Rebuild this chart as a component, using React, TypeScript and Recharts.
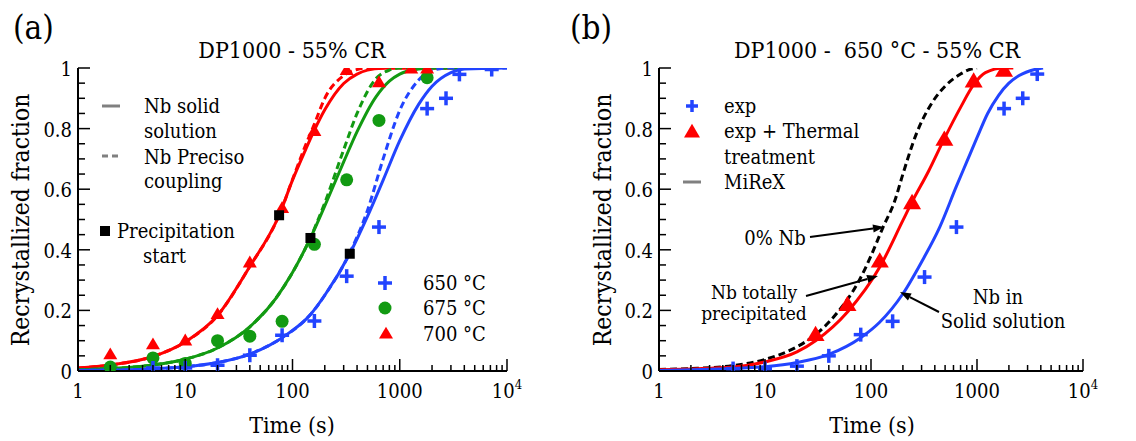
import { ComposedChart, Line, Scatter, XAxis, YAxis } from 'recharts';

const FONT = "'DejaVu Serif Condensed', 'DejaVu Serif', serif";
const BLUE = '#2244ff';
const GREEN = '#129a12';
const RED = '#ff0000';
const GREY = '#808080';

// ---- panel (a) : experimental points ----
const exp650T = [5, 10, 20, 40, 80, 160, 320, 640, 1800, 2700, 3600, 7200];
const exp650Y = [0.01, 0.01, 0.019, 0.052, 0.118, 0.165, 0.313, 0.475, 0.866, 0.9, 0.979, 0.995];
const exp675T = [2, 5, 10, 20, 40, 80, 160, 320, 640, 1800];
const exp675Y = [0.013, 0.043, 0.025, 0.1, 0.115, 0.164, 0.418, 0.631, 0.827, 0.968];
const exp700T = [2, 5, 10, 20, 40, 80, 160, 320, 640, 1280, 1800];
const exp700Y = [0.057, 0.09, 0.103, 0.19, 0.36, 0.54, 0.794, 0.995, 0.955, 1.0, 1.0];
const precipT = [75, 147, 342];
const precipY = [0.514, 0.439, 0.387];

// ---- panel (a) : model curves ----
const red700T = [1, 2, 5, 10, 20, 40, 75, 100, 130, 160, 200, 300, 400, 500, 700, 1000, 4000];
const red700Solid = [0.01, 0.02, 0.048, 0.096, 0.183, 0.345, 0.514, 0.63, 0.724, 0.795, 0.862, 0.949, 0.98, 0.993, 0.999, 1, 1];
const red700Dash = [0.01, 0.02, 0.048, 0.096, 0.183, 0.345, 0.514, 0.632, 0.738, 0.815, 0.9, 0.975, 0.995, 1, 1, 1, 1];
const green675T = [1, 2, 5, 10, 20, 40, 70, 100, 147, 200, 300, 400, 600, 800, 1000, 1500, 2000, 4000];
const green675Solid = [0.004, 0.008, 0.02, 0.039, 0.076, 0.146, 0.24, 0.325, 0.439, 0.545, 0.69, 0.79, 0.905, 0.957, 0.98, 0.997, 1, 1];
const green675Dash = [0.004, 0.008, 0.02, 0.039, 0.076, 0.146, 0.24, 0.325, 0.44, 0.555, 0.73, 0.85, 0.965, 0.993, 1, 1, 1, 1];
const blue650T = [1, 2, 5, 10, 20, 40, 80, 150, 200, 342, 500, 700, 1000, 1500, 2000, 3000, 4000, 10000];
const blue650Solid = [0.002, 0.003, 0.007, 0.014, 0.028, 0.056, 0.11, 0.19, 0.25, 0.387, 0.51, 0.63, 0.76, 0.88, 0.94, 0.985, 0.997, 1];
const blue650Dash = [0.002, 0.003, 0.007, 0.014, 0.028, 0.056, 0.11, 0.19, 0.25, 0.39, 0.53, 0.7, 0.86, 0.96, 0.993, 1, 1, 1];

// ---- panel (b) ----
const expBT = [5, 10, 20, 40, 80, 160, 320, 640, 1800, 2700, 3700];
const expBY = [0.008, 0.008, 0.016, 0.05, 0.12, 0.164, 0.31, 0.475, 0.866, 0.9, 0.98];
const thermalT = [30, 60, 121, 244, 492, 930, 1800];
const thermalY = [0.123, 0.222, 0.365, 0.558, 0.767, 0.959, 0.995];
const precipBT = [1, 5, 10, 20, 30, 60, 121, 200, 244, 350, 492, 700, 930, 1200, 1800, 2200];
const precipBY = [0.004, 0.013, 0.03, 0.063, 0.1, 0.195, 0.343, 0.497, 0.558, 0.66, 0.767, 0.87, 0.945, 0.985, 1, 1];
const noNbT = [1, 2, 5, 10, 20, 30, 50, 75, 100, 130, 167, 200, 266, 384, 500, 700, 850, 1000];
const noNbY = [0.005, 0.008, 0.018, 0.038, 0.08, 0.12, 0.2, 0.29, 0.38, 0.475, 0.56, 0.65, 0.78, 0.89, 0.94, 0.98, 0.995, 1];
const solidBT = [1, 5, 10, 20, 40, 80, 120, 200, 300, 445, 640, 800, 1000, 1260, 1600, 2000, 2500, 3500, 4200];
const solidBY = [0.002, 0.008, 0.014, 0.028, 0.055, 0.11, 0.16, 0.255, 0.36, 0.475, 0.61, 0.69, 0.77, 0.85, 0.91, 0.95, 0.975, 0.995, 1];

const X_TICKS = [1, 10, 100, 1000].flatMap((d) => [1, 2, 3, 4, 5, 6, 7, 8, 9].map((m) => m * d)).concat(10000);
const Y_TICKS = [0, 0.05, 0.1, 0.15, 0.2, 0.25, 0.3, 0.35, 0.4, 0.45, 0.5, 0.55, 0.6, 0.65, 0.7, 0.75, 0.8, 0.85, 0.9, 0.95, 1];

const pts = (t: number[], y: number[]) => t.map((x, i) => ({ x, y: y[i] }));

const isMajorX = (v: number) => Math.abs(Math.log10(v) - Math.round(Math.log10(v))) < 1e-6;
const isMajorY = (v: number) => Math.abs(v * 5 - Math.round(v * 5)) < 1e-6;

const BottomTick = (p: any) => {
  const v = p.payload.value;
  const major = isMajorX(v);
  return (
    <g>
      <line x1={p.x} x2={p.x} y1={p.y} y2={p.y - (major ? 12 : 6)} stroke="#000" strokeWidth={1.5} />
      {major && (
        <text x={p.x} y={p.y + 27} textAnchor="middle" fontFamily={FONT} fontSize={20} fill="#000">
          {v === 10000 ? (
            <>
              <tspan>10</tspan>
              <tspan dy={-9} fontSize={13}>4</tspan>
            </>
          ) : (
            String(v)
          )}
        </text>
      )}
    </g>
  );
};

const TopTick = (p: any) => {
  const major = isMajorX(p.payload.value);
  return <line x1={p.x} x2={p.x} y1={p.y} y2={p.y + (major ? 12 : 6)} stroke="#000" strokeWidth={1.5} />;
};

const LeftTick = (p: any) => {
  const v = p.payload.value;
  const major = isMajorY(v);
  return (
    <g>
      <line x1={p.x} x2={p.x + (major ? 12 : 7)} y1={p.y} y2={p.y} stroke="#000" strokeWidth={1.5} />
      {major && (
        <text x={p.x - 6} y={p.y + 8} textAnchor="end" fontFamily={FONT} fontSize={20} fill="#000">
          {v === 0 ? '0' : v === 1 ? '1' : v.toFixed(1)}
        </text>
      )}
    </g>
  );
};

const RightTick = (p: any) => {
  const major = isMajorY(p.payload.value);
  return <line x1={p.x} x2={p.x - (major ? 12 : 7)} y1={p.y} y2={p.y} stroke="#000" strokeWidth={1.5} />;
};

const Cross = ({ cx, cy, s = 7, c = BLUE }: any) => (
  <g>
    <line x1={cx - s} x2={cx + s} y1={cy} y2={cy} stroke={c} strokeWidth={3.5} />
    <line x1={cx} x2={cx} y1={cy - s} y2={cy + s} stroke={c} strokeWidth={3.5} />
  </g>
);
const Dot = ({ cx, cy }: any) => <circle cx={cx} cy={cy} r={6.5} fill={GREEN} />;
const Tri = ({ cx, cy, s = 7 }: any) => (
  <polygon points={`${cx - s},${cy + s * 0.8} ${cx + s},${cy + s * 0.8} ${cx},${cy - s * 0.9}`} fill={RED} />
);
const TriBig = (p: any) => <Tri {...p} s={9} />;
const Sq = ({ cx, cy }: any) => <rect x={cx - 5} y={cy - 5} width={10} height={10} fill="#000" />;

const axisLine = { stroke: '#000', strokeWidth: 2 };

const Panel = ({ left, plotL, plotR, children }: any) => {
  const W = 568;
  return (
    <div style={{ position: 'absolute', left, top: 0 }}>
      <ComposedChart width={W} height={441} margin={{ top: 68, right: W - plotR, bottom: 0, left: 0 }}>
        <XAxis xAxisId="b" dataKey="x" type="number" scale="log" domain={[1, 10000]} allowDataOverflow
          ticks={X_TICKS} interval={0} tickSize={0} tickMargin={0} height={70} tick={BottomTick}
          tickLine={false} axisLine={axisLine} />
        <XAxis xAxisId="t" orientation="top" dataKey="x" type="number" scale="log" domain={[1, 10000]} allowDataOverflow
          ticks={X_TICKS} interval={0} tickSize={0} tickMargin={0} height={0} tick={TopTick}
          tickLine={false} axisLine={axisLine} />
        <YAxis yAxisId="l" dataKey="y" type="number" domain={[0, 1]} allowDataOverflow ticks={Y_TICKS}
          interval={0} tickSize={0} tickMargin={0} width={plotL} tick={LeftTick} tickLine={false} axisLine={axisLine} />
        <YAxis yAxisId="r" orientation="right" dataKey="y" type="number" domain={[0, 1]} allowDataOverflow ticks={Y_TICKS}
          interval={0} tickSize={0} tickMargin={0} width={0} tick={RightTick} tickLine={false} axisLine={axisLine} />
        {children}
      </ComposedChart>
    </div>
  );
};

const curve = (key: string, data: any[], color: string, dashed = false) => (
  <Line key={key} xAxisId="b" yAxisId="l" data={data} dataKey="y" type="monotone" stroke={color}
    strokeWidth={3} strokeDasharray={dashed ? '7 4' : undefined} dot={false} activeDot={false}
    isAnimationActive={false} />
);
const marks = (key: string, data: any[], shape: any) => (
  <Scatter key={key} xAxisId="b" yAxisId="l" data={data} dataKey="y" shape={shape} isAnimationActive={false} />
);

const Arrow = ({ x1, y1, x2, y2 }: any) => {
  const a = Math.atan2(y2 - y1, x2 - x1);
  const L = 11, w = 4;
  const bx = x2 - L * Math.cos(a), by = y2 - L * Math.sin(a);
  const px = -Math.sin(a) * w, py = Math.cos(a) * w;
  return (
    <g>
      <line x1={x1} y1={y1} x2={bx} y2={by} stroke="#000" strokeWidth={2} />
      <polygon points={`${x2},${y2} ${bx + px},${by + py} ${bx - px},${by - py}`} fill="#000" />
    </g>
  );
};

const T = ({ x, y, s = 20, a = 'start', children, ...rest }: any) => (
  <text x={x} y={y} fontSize={s} textAnchor={a} fill="#000" fontFamily={FONT} xmlSpace="preserve" {...rest}>
    {children}
  </text>
);

export default function App() {
  return (
    <div style={{ position: 'absolute', left: 0, top: 0, width: 1136, height: 441, background: '#fff' }}>
      <Panel left={0} plotL={78} plotR={507}>
        {curve('r1', pts(red700T, red700Dash), RED, true)}
        {curve('r2', pts(red700T, red700Solid), RED)}
        {curve('g1', pts(green675T, green675Dash), GREEN, true)}
        {curve('g2', pts(green675T, green675Solid), GREEN)}
        {curve('b1', pts(blue650T, blue650Dash), BLUE, true)}
        {curve('b2', pts(blue650T, blue650Solid), BLUE)}
        {marks('m1', pts(exp675T, exp675Y), Dot)}
        {marks('m2', pts(exp700T, exp700Y), Tri)}
        {marks('m3', pts(exp650T, exp650Y), Cross)}
        {marks('m4', pts(precipT, precipY), Sq)}
      </Panel>
      <Panel left={568} plotL={91} plotR={515}>
        {curve('k', pts(noNbT, noNbY), '#000', true)}
        {curve('r', pts(precipBT, precipBY), RED)}
        {curve('b', pts(solidBT, solidBY), BLUE)}
        {marks('e1', pts(expBT, expBY), Cross)}
        {marks('e2', pts(thermalT, thermalY), TriBig)}
      </Panel>
      <svg width={1136} height={441} style={{ position: 'absolute', left: 0, top: 0, pointerEvents: 'none' }}>
        <T x={13} y={39} s={33}>(a)</T>
        <T x={570} y={39} s={33}>(b)</T>
        <T x={292} y={58} s={23} a="middle">DP1000 - 55% CR</T>
        <T x={877} y={58} s={23} a="middle">DP1000 -  650 °C - 55% CR</T>
        <T x={0} y={0} s={24.5} a="middle" transform="translate(29,220) rotate(-90)">Recrystallized fraction</T>
        <T x={0} y={0} s={24.5} a="middle" transform="translate(611,220) rotate(-90)">Recrystallized fraction</T>
        <T x={292} y={433} s={23} a="middle">Time (s)</T>
        <T x={872} y={433} s={23} a="middle">Time (s)</T>

        {/* legend (a) */}
        <line x1={102} x2={120} y1={106} y2={106} stroke={GREY} strokeWidth={3} />
        <T x={144} y={113}>Nb solid</T>
        <T x={144} y={138}>solution</T>
        <line x1={102} x2={120} y1={156} y2={156} stroke={GREY} strokeWidth={3} strokeDasharray="6 4" />
        <T x={144} y={164}>Nb Preciso</T>
        <T x={144} y={188}>coupling</T>
        <rect x={100} y={226} width={10} height={10} fill="#000" />
        <T x={117} y={238}>Precipitation</T>
        <T x={143} y={263}>start</T>
        <Cross cx={385} cy={283} />
        <T x={423} y={290}>650 °C</T>
        <circle cx={385} cy={308} r={6.5} fill={GREEN} />
        <T x={423} y={315}>675 °C</T>
        <Tri cx={386} cy={333} />
        <T x={423} y={341}>700 °C</T>

        {/* legend (b) */}
        <Cross cx={692} cy={106} s={6} />
        <T x={724} y={113}>exp</T>
        <Tri cx={692} cy={131} s={8} />
        <T x={724} y={138}>exp + Thermal</T>
        <T x={724} y={164}>treatment</T>
        <line x1={683} x2={701} y1={182} y2={182} stroke={GREY} strokeWidth={3} />
        <T x={724} y={189}>MiReX</T>

        {/* annotations (b) */}
        <T x={775} y={245} a="middle">0% Nb</T>
        <Arrow x1={810} y1={237} x2={884} y2={227} />
        <T x={754} y={299} s={19} a="middle">Nb totally</T>
        <T x={754} y={320} s={19} a="middle">precipitated</T>
        <Arrow x1={806} y1={296} x2={878} y2={276} />
        <T x={998} y={304} a="middle">Nb in</T>
        <T x={1003} y={328} a="middle">Solid solution</T>
        <Arrow x1={939} y1={312} x2={900} y2={292} />
      </svg>
    </div>
  );
}
